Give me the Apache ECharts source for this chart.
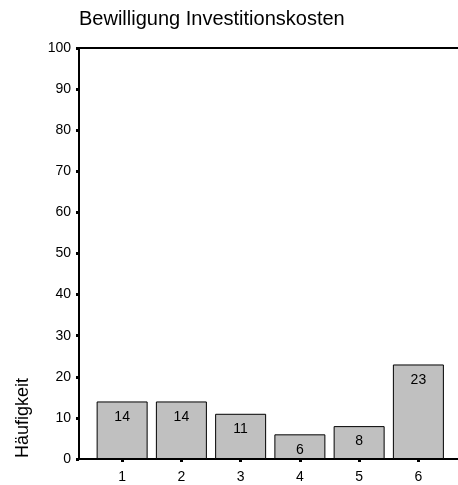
<!DOCTYPE html>
<html><head><meta charset="utf-8">
<script src="https://cdn.jsdelivr.net/npm/echarts@6/dist/echarts.min.js"></script>
<style>html,body{margin:0;padding:0;background:#fff}#c{width:458px;height:485px}</style>
</head><body><div id="c"></div>
<script>
const titleText = 'Bewilligung Investitionskosten';
const yAxisTitle = 'Häufigkeit';
const categories = ['1', '2', '3', '4', '5', '6'];
const counts = [14, 14, 11, 6, 8, 23];
const yMin = 0, yMax = 100, yStep = 10;

const font = 'Liberation Sans, Arial, sans-serif';
const chart = echarts.init(document.getElementById('c'), null, {renderer: 'canvas'});
chart.setOption({
  animation: false,
  backgroundColor: '#fff',
  title: {text: titleText, left: 79, top: 9, padding: 0, textStyle: {fontFamily: font, fontSize: 20, fontWeight: 'normal', color: '#000'}},
  graphic: [{
    type: 'text', x: 23, y: 418, rotation: Math.PI / 2,
    style: {text: yAxisTitle, fontFamily: font, fontSize: 18, fill: '#000', align: 'center', verticalAlign: 'middle'}
  }],
  grid: [
    {left: 92.5, right: 10, top: 48, bottom: 26},
    {left: 79, right: 0, top: 48, bottom: 26}
  ],
  xAxis: [
    {type: 'category', gridIndex: 0, data: categories,
     axisLine: {show: false},
     axisTick: {show: true, alignWithLabel: true, length: 3, lineStyle: {width: 3, color: '#000'}},
     axisLabel: {fontFamily: font, fontSize: 14, color: '#000', margin: 11},
     splitLine: {show: false}},
    {type: 'value', gridIndex: 1, min: 0, max: 1, position: 'bottom',
     axisLine: {show: true, lineStyle: {color: '#000', width: 2}},
     axisTick: {show: false}, axisLabel: {show: false}, splitLine: {show: false}},
    {type: 'value', gridIndex: 1, min: 0, max: 1, position: 'top',
     axisLine: {show: true, lineStyle: {color: '#000', width: 2}},
     axisTick: {show: false}, axisLabel: {show: false}, splitLine: {show: false}}
  ],
  yAxis: [
    {type: 'value', gridIndex: 0, min: yMin, max: yMax, interval: yStep, offset: 13.5,
     axisLine: {show: true, lineStyle: {color: '#000', width: 2}},
     axisTick: {show: true, length: 3, lineStyle: {width: 3, color: '#000'}},
     axisLabel: {fontFamily: font, fontSize: 14, color: '#000', margin: 8},
     splitLine: {show: false}},
    {type: 'value', gridIndex: 1, min: 0, max: 1, show: false}
  ],
  series: [{
    type: 'bar', xAxisIndex: 0, yAxisIndex: 0, data: counts,
    barWidth: 51,
    itemStyle: {color: '#c0c0c0', borderColor: '#000', borderWidth: 1},
    label: {show: true, position: 'insideTop', distance: 8.5, fontFamily: font, fontSize: 14, color: '#000'}
  }]
});
</script></body></html>
